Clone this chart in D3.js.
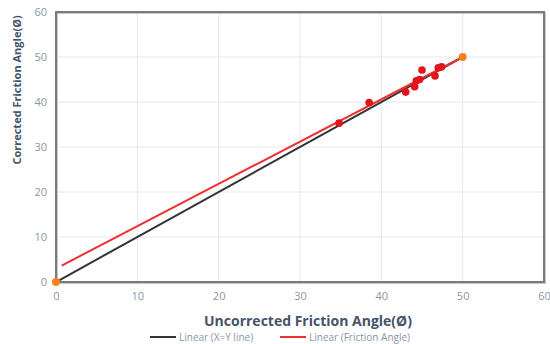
<!DOCTYPE html>
<html><head><meta charset="utf-8">
<script src="https://cdn.jsdelivr.net/npm/d3@7"></script>
<style>body{margin:0;background:#fff}svg{display:block}</style>
</head><body>
<svg id="c" width="550" height="344"></svg>
<script>
const xTicks = [0,10,20,30,40,50,60];
const yTicks = [0,10,20,30,40,50,60];
const uncorrected = [34.8,38.5,43.0,44.1,44.3,44.7,45.0,46.6,47.0,47.4];
const corrected   = [35.3,39.9,42.2,43.4,44.7,45.0,47.1,45.8,47.6,47.8];
const endX = [0,50];
const endY = [0,50];
const xyLine = {x:[0,50], y:[0,50]};
const fitLine = {x:[0.7,50], intercept:3.0, slope:0.94};
const legendLabels = ["Linear (X=Y line)","Linear (Friction Angle)"];
const xTitle = "Uncorrected  Friction Angle(Ø)";
const yTitle = "Corrected Friction Angle(Ø)";

const svg = d3.select("#c");
const m = {l:56, r:544, t:12, b:282};
const x = d3.scaleLinear().domain([0,60]).range([m.l,m.r]);
const y = d3.scaleLinear().domain([0,60]).range([m.b,m.t]);
const font = "'Open Sans', 'Liberation Sans', sans-serif";

// gridlines
svg.append("g").selectAll("line.gx").data(xTicks.slice(1,-1)).join("line")
  .attr("x1",d=>x(d)).attr("x2",d=>x(d)).attr("y1",m.t).attr("y2",m.b)
  .attr("stroke","#e3e8f0").attr("stroke-width",1);
svg.append("g").selectAll("line.gy").data(yTicks.slice(1,-1)).join("line")
  .attr("x1",m.l).attr("x2",m.r).attr("y1",d=>y(d)).attr("y2",d=>y(d))
  .attr("stroke","#e3e8f0").attr("stroke-width",1);

// frame
svg.append("rect").attr("x",m.l+1).attr("y",m.t+1).attr("width",m.r-m.l).attr("height",m.b-m.t)
  .attr("fill","none").attr("stroke","#c8c8c8").attr("stroke-width",2);
svg.append("rect").attr("x",m.l).attr("y",m.t).attr("width",m.r-m.l).attr("height",m.b-m.t)
  .attr("fill","none").attr("stroke","#7a7a7a").attr("stroke-width",2);

// axes tick labels
const xa = d3.axisBottom(x).tickValues(xTicks).tickSize(0).tickPadding(10);
const gx = svg.append("g").attr("transform",`translate(0,${m.b})`).call(xa);
gx.select(".domain").remove();
gx.selectAll("text").attr("fill","#8896a8").style("font-size","11px").style("font-family",font);
const ya = d3.axisLeft(y).tickValues(yTicks).tickSize(0).tickPadding(9);
const gy = svg.append("g").attr("transform",`translate(${m.l},0)`).call(ya);
gy.select(".domain").remove();
gy.selectAll("text").attr("fill","#8896a8").style("font-size","11px").style("font-family",font);

// lines
const ln = d3.line().x(d=>x(d[0])).y(d=>y(d[1]));
svg.append("path").attr("d",ln(xyLine.x.map((v,i)=>[v,xyLine.y[i]])))
  .attr("stroke","#333333").attr("stroke-width",2).attr("fill","none");
svg.append("path").attr("d",ln(fitLine.x.map(v=>[v,fitLine.intercept+fitLine.slope*v])))
  .attr("stroke","#f03030").attr("stroke-width",2).attr("fill","none");

// points
svg.append("g").selectAll("circle").data(uncorrected).join("circle")
  .attr("cx",d=>x(d)).attr("cy",(d,i)=>y(corrected[i])).attr("r",3.8).attr("fill","#e0141a");
svg.append("g").selectAll("circle").data(endX).join("circle")
  .attr("cx",d=>x(d)).attr("cy",(d,i)=>y(endY[i])).attr("r",4).attr("fill","#f5821f");

// titles
svg.append("text").attr("x",308).attr("y",326).attr("text-anchor","middle")
  .style("font-family",font).style("font-size","14px").style("font-weight","bold")
  .attr("fill","#44546a").text(xTitle);
svg.append("text").attr("transform","translate(21,90) rotate(-90)").attr("text-anchor","middle")
  .style("font-family",font).style("font-size","11px").style("font-weight","bold")
  .attr("fill","#44546a").text(yTitle);

// legend
const lg = svg.append("g");
const lcol = ["#333333","#f03030"];
const lx = [150,280];
legendLabels.forEach((t,i)=>{
  lg.append("line").attr("x1",lx[i]).attr("x2",lx[i]+26).attr("y1",337).attr("y2",337)
    .attr("stroke",lcol[i]).attr("stroke-width",2);
  lg.append("text").attr("x",lx[i]+29).attr("y",340.5).style("font-family",font).style("font-size","10px")
    .attr("fill","#8896a8").text(t);
});
</script>
</body></html>
